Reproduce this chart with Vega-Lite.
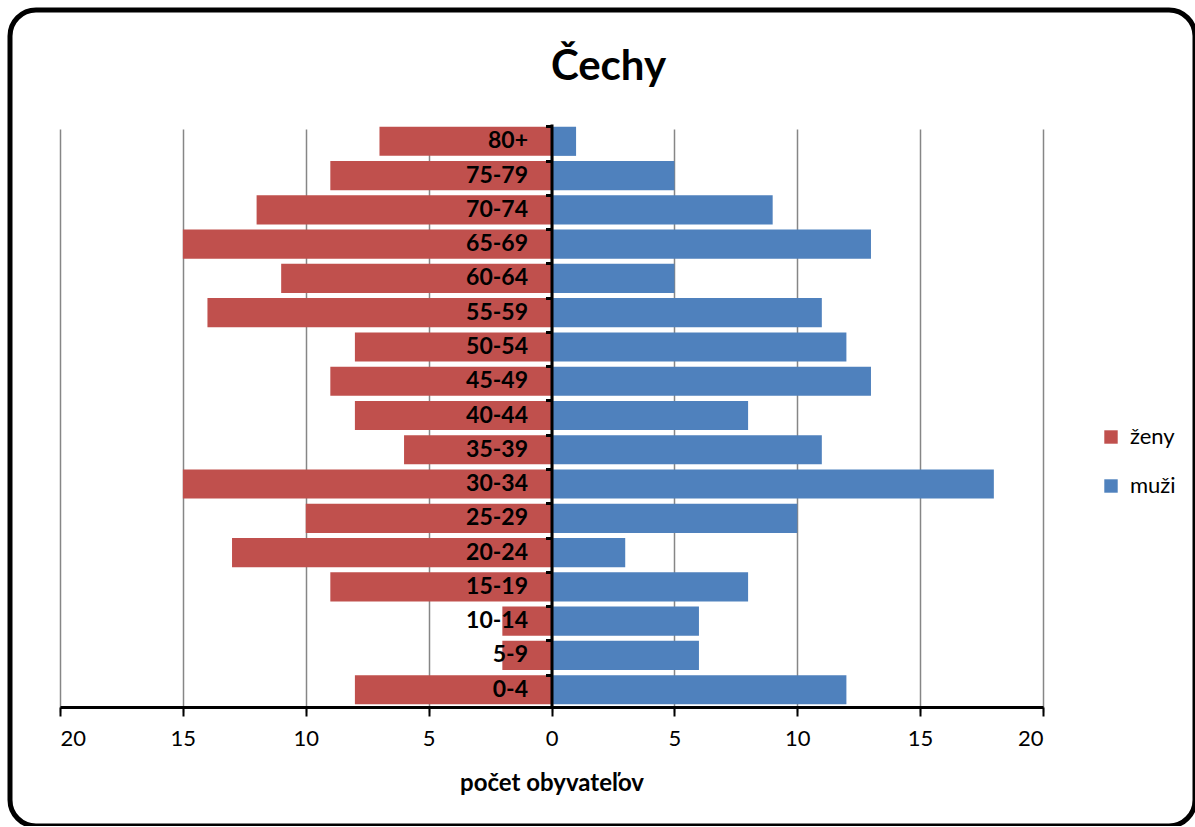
{
  "$schema": "https://vega.github.io/schema/vega-lite/v6.json",
  "autosize": {"type": "none"},
  "padding": {"left": 10, "top": 10, "right": 0, "bottom": 0},
  "width": 1185,
  "height": 816,
  "background": "white",
  "title": {
    "text": "Čechy",
    "font": "Lato",
    "fontSize": 42,
    "fontWeight": "bold",
    "color": "black",
    "anchor": "middle",
    "frame": "group",
    "baseline": "alphabetic",
    "offset": -112,
    "dx": 6
  },
  "data": {
    "values": [
      {"vek": "80+", "pohlavie": "ženy", "pocet": -7},
      {"vek": "75-79", "pohlavie": "ženy", "pocet": -9},
      {"vek": "70-74", "pohlavie": "ženy", "pocet": -12},
      {"vek": "65-69", "pohlavie": "ženy", "pocet": -15},
      {"vek": "60-64", "pohlavie": "ženy", "pocet": -11},
      {"vek": "55-59", "pohlavie": "ženy", "pocet": -14},
      {"vek": "50-54", "pohlavie": "ženy", "pocet": -8},
      {"vek": "45-49", "pohlavie": "ženy", "pocet": -9},
      {"vek": "40-44", "pohlavie": "ženy", "pocet": -8},
      {"vek": "35-39", "pohlavie": "ženy", "pocet": -6},
      {"vek": "30-34", "pohlavie": "ženy", "pocet": -15},
      {"vek": "25-29", "pohlavie": "ženy", "pocet": -10},
      {"vek": "20-24", "pohlavie": "ženy", "pocet": -13},
      {"vek": "15-19", "pohlavie": "ženy", "pocet": -9},
      {"vek": "10-14", "pohlavie": "ženy", "pocet": -2},
      {"vek": "5-9", "pohlavie": "ženy", "pocet": -2},
      {"vek": "0-4", "pohlavie": "ženy", "pocet": -8},
      {"vek": "80+", "pohlavie": "muži", "pocet": 1},
      {"vek": "75-79", "pohlavie": "muži", "pocet": 5},
      {"vek": "70-74", "pohlavie": "muži", "pocet": 9},
      {"vek": "65-69", "pohlavie": "muži", "pocet": 13},
      {"vek": "60-64", "pohlavie": "muži", "pocet": 5},
      {"vek": "55-59", "pohlavie": "muži", "pocet": 11},
      {"vek": "50-54", "pohlavie": "muži", "pocet": 12},
      {"vek": "45-49", "pohlavie": "muži", "pocet": 13},
      {"vek": "40-44", "pohlavie": "muži", "pocet": 8},
      {"vek": "35-39", "pohlavie": "muži", "pocet": 11},
      {"vek": "30-34", "pohlavie": "muži", "pocet": 18},
      {"vek": "25-29", "pohlavie": "muži", "pocet": 10},
      {"vek": "20-24", "pohlavie": "muži", "pocet": 3},
      {"vek": "15-19", "pohlavie": "muži", "pocet": 8},
      {"vek": "10-14", "pohlavie": "muži", "pocet": 6},
      {"vek": "5-9", "pohlavie": "muži", "pocet": 6},
      {"vek": "0-4", "pohlavie": "muži", "pocet": 12}
    ]
  },
  "mark": {"type": "bar"},
  "encoding": {
    "y": {
      "field": "vek",
      "type": "nominal",
      "sort": ["80+", "75-79", "70-74", "65-69", "60-64", "55-59", "50-54", "45-49", "40-44", "35-39", "30-34", "25-29", "20-24", "15-19", "10-14", "5-9", "0-4"],
      "scale": {"range": [114, 697], "paddingInner": 0.15, "paddingOuter": 0.08},
      "axis": {
        "title": null,
        "orient": "left",
        "offset": -541.5,
        "zindex": 1,
        "grid": false,
        "domainColor": "black",
        "domainWidth": 3,
        "ticks": true,
        "tickColor": "black",
        "tickWidth": 3,
        "tickSize": 6,
        "bandPosition": 0,
        "labelFont": "Lato",
        "labelFontSize": 23,
        "labelFontWeight": "bold",
        "labelColor": "black",
        "labelPadding": 18
      }
    },
    "x": {
      "field": "pocet",
      "type": "quantitative",
      "scale": {"domain": [-20, 20], "range": [50, 1033], "nice": false, "zero": true},
      "axis": {
        "title": "počet obyvateľov",
        "titleFont": "Lato",
        "titleFontSize": 24,
        "titleFontWeight": "bold",
        "titleColor": "black",
        "titlePadding": 22,
        "orient": "bottom",
        "offset": -119,
        "values": [-20, -15, -10, -5, 0, 5, 10, 15, 20],
        "labelExpr": "abs(datum.value)",
        "labelFont": "Lato",
        "labelFontSize": 22,
        "labelColor": "black",
        "labelPadding": 12,
        "domainColor": "black",
        "domainWidth": 3,
        "tickColor": "black",
        "tickWidth": 2,
        "tickSize": 9,
        "grid": true,
        "gridColor": "#868686",
        "gridWidth": 1.5,
        "zindex": 0
      }
    },
    "color": {
      "field": "pohlavie",
      "type": "nominal",
      "scale": {"domain": ["ženy", "muži"], "range": ["#C0504D", "#4F81BD"]},
      "legend": {
        "title": null,
        "orient": "none",
        "legendX": 1090,
        "legendY": 416,
        "symbolType": "square",
        "symbolSize": 180,
        "symbolStrokeWidth": 0,
        "labelFont": "Lato",
        "labelFontSize": 22,
        "labelColor": "black",
        "labelOffset": 8,
        "rowPadding": 27
      }
    }
  },
  "config": {
    "view": {"stroke": "black", "strokeWidth": 5, "cornerRadius": 26, "fill": "white"},
    "bar": {"stroke": null}
  }
}
